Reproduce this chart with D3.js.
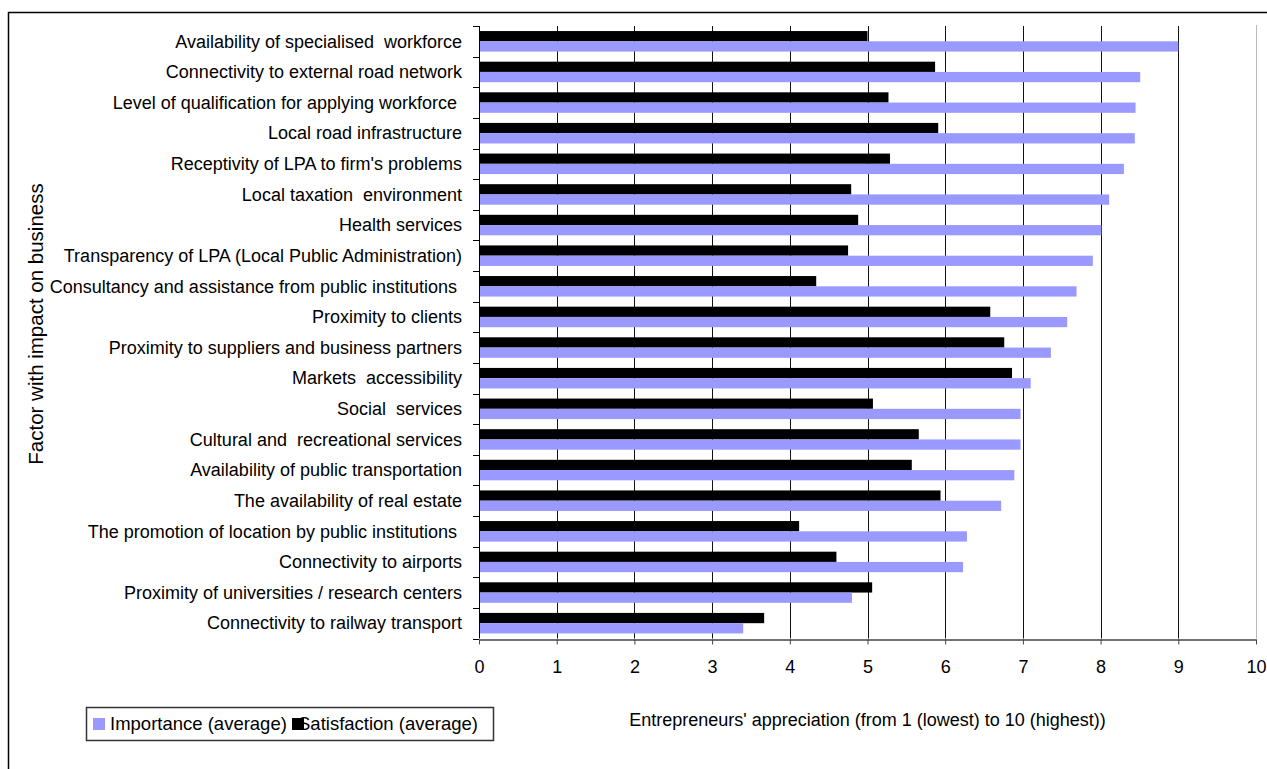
<!DOCTYPE html>
<html>
<head>
<meta charset="utf-8">
<script src="https://cdn.jsdelivr.net/npm/d3@7"></script>
<style>
  body { margin: 0; background: #fff; }
  text { font-family: "Liberation Sans", Arial, sans-serif; fill: #000; }
</style>
</head>
<body>
<div id="chart"></div>
<script>
// factors, top to bottom
const factors = [
    "Availability of specialised  workforce",
    "Connectivity to external road network",
    "Level of qualification for applying workforce ",
    "Local road infrastructure",
    "Receptivity of LPA to firm's problems",
    "Local taxation  environment",
    "Health services",
    "Transparency of LPA (Local Public Administration)",
    "Consultancy and assistance from public institutions ",
    "Proximity to clients",
    "Proximity to suppliers and business partners",
    "Markets  accessibility",
    "Social  services",
    "Cultural and  recreational services",
    "Availability of public transportation",
    "The availability of real estate",
    "The promotion of location by public institutions ",
    "Connectivity to airports",
    "Proximity of universities / research centers",
    "Connectivity to railway transport"
];
const importance = [9.0, 8.51, 8.45, 8.44, 8.30, 8.11, 8.01, 7.90, 7.69, 7.57,
                    7.36, 7.10, 6.97, 6.97, 6.89, 6.72, 6.28, 6.23, 4.80, 3.40];
const satisfaction = [5.00, 5.87, 5.27, 5.91, 5.29, 4.79, 4.88, 4.75, 4.34, 6.58,
                      6.76, 6.86, 5.07, 5.66, 5.57, 5.94, 4.12, 4.60, 5.06, 3.67];
const seriesNames = ["Satisfaction (average)", "Importance (average)"];
const legendNames = ["Importance (average)", "Satisfaction (average)"];
const xTicks = [0, 1, 2, 3, 4, 5, 6, 7, 8, 9, 10];

const width = 1267, height = 769;
const margin = { top: 26, right: 11, bottom: 131, left: 479 };
const colors = { "Importance (average)": "#9999ff", "Satisfaction (average)": "#000000" };

const svg = d3.select("#chart").append("svg")
    .attr("width", width)
    .attr("height", height);

// outer frame (runs off the page on the right and bottom)
svg.append("rect")
    .attr("x", 8.5).attr("y", 12.5)
    .attr("width", width).attr("height", height)
    .attr("fill", "none")
    .attr("stroke", "#000")
    .attr("stroke-width", 1.5);

const x = d3.scaleLinear()
    .domain([0, 10])
    .range([margin.left, width - margin.right]);

const y = d3.scaleBand()
    .domain(factors)
    .range([margin.top, height - margin.bottom + 0.5])
    .paddingInner(0.33)
    .paddingOuter(0.165);

const ySub = d3.scaleBand()
    .domain(seriesNames)
    .range([0, y.bandwidth()]);

const rows = factors.map((f, i) => ({
    factor: f,
    values: [
        { key: "Satisfaction (average)", value: satisfaction[i] },
        { key: "Importance (average)", value: importance[i] }
    ]
}));

const [y0, y1] = y.range();

// vertical gridlines
svg.append("g")
    .selectAll("line")
    .data(xTicks.filter(d => d > 0 && d < 10))
    .join("line")
    .attr("x1", d => Math.round(x(d)) + 0.5)
    .attr("x2", d => Math.round(x(d)) + 0.5)
    .attr("y1", y0)
    .attr("y2", y1)
    .attr("stroke", "#111")
    .attr("stroke-width", 1);

// right plot edge
svg.append("line")
    .attr("x1", Math.round(x(10)) + 0.5).attr("x2", Math.round(x(10)) + 0.5)
    .attr("y1", y0 - 1).attr("y2", y1)
    .attr("stroke", "#bbb");

// bars
const groups = svg.append("g")
    .selectAll("g")
    .data(rows)
    .join("g")
    .attr("transform", d => `translate(0,${y(d.factor)})`);

groups.selectAll("rect")
    .data(d => d.values)
    .join("rect")
    .attr("x", x(0))
    .attr("y", d => ySub(d.key))
    .attr("width", d => x(d.value) - x(0))
    .attr("height", ySub.bandwidth())
    .attr("fill", d => colors[d.key]);

// y axis: line, boundary ticks and labels
const yAxis = svg.append("g");
yAxis.append("line")
    .attr("x1", x(0) + 0.5).attr("x2", x(0) + 0.5)
    .attr("y1", y0).attr("y2", y1)
    .attr("stroke", "#000");
yAxis.selectAll(".ytick")
    .data(d3.range(factors.length + 1))
    .join("line")
    .attr("class", "ytick")
    .attr("x1", x(0) - 6).attr("x2", x(0))
    .attr("y1", i => Math.round(y0 + i * y.step()) + 0.5)
    .attr("y2", i => Math.round(y0 + i * y.step()) + 0.5)
    .attr("stroke", "#000");
yAxis.selectAll("text")
    .data(factors)
    .join("text")
    .attr("x", 462)
    .attr("y", d => y(d) + y.bandwidth() / 2)
    .attr("dy", "0.35em")
    .attr("text-anchor", "end")
    .attr("font-size", 18)
    .style("white-space", "pre")
    .text(d => d);

// x axis
const xAxis = svg.append("g")
    .attr("transform", `translate(0,${Math.round(y1) + 0.5})`)
    .call(d3.axisBottom(x).tickValues(xTicks).tickSize(5).tickPadding(16).tickSizeOuter(0));
xAxis.select(".domain").attr("stroke", "#444").attr("stroke-width", 1.5);
xAxis.selectAll(".tick line").attr("stroke", "#444");
xAxis.selectAll(".tick text")
    .attr("font-size", 18)
    .attr("font-family", "Liberation Sans, Arial, sans-serif")
    .attr("fill", "#000");

// axis titles
svg.append("text")
    .attr("x", (x(0) + x(10)) / 2)
    .attr("y", 726)
    .attr("text-anchor", "middle")
    .attr("font-size", 18)
    .text("Entrepreneurs' appreciation (from 1 (lowest) to 10 (highest))");

svg.append("text")
    .attr("transform", "translate(43,324) rotate(-90)")
    .attr("text-anchor", "middle")
    .attr("font-size", 20.5)
    .text("Factor with impact on business");

// legend
const legend = svg.append("g").attr("transform", "translate(86,707)");
legend.append("rect")
    .attr("x", 0.5).attr("y", 0.5)
    .attr("width", 407).attr("height", 33)
    .attr("fill", "#fff")
    .attr("stroke", "#333")
    .attr("stroke-width", 1.5);
const swatchX = [7, 206];
const labelX = [24, 212];
legendNames.forEach((name, i) => {
    legend.append("text")
        .attr("x", labelX[i])
        .attr("y", 17)
        .attr("dy", "0.35em")
        .attr("font-size", 18.5)
        .text(name);
    legend.append("rect")
        .attr("x", swatchX[i])
        .attr("y", 11)
        .attr("width", 12)
        .attr("height", 12)
        .attr("fill", colors[name]);
});
</script>
</body>
</html>
